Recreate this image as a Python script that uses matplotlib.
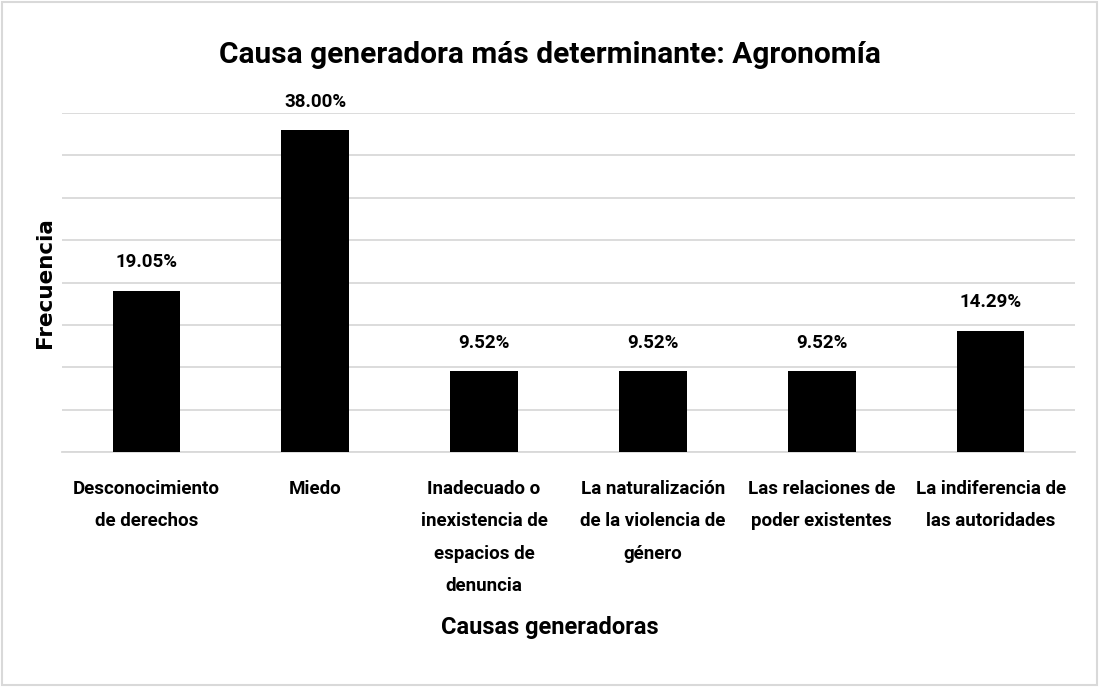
import matplotlib
matplotlib.use("Agg")
import matplotlib.pyplot as plt
from matplotlib.patches import Rectangle

# data
categorias = [
    "Desconocimiento\nde derechos",
    "Miedo",
    "Inadecuado o\ninexistencia de\nespacios de\ndenuncia",
    "La naturalización\nde la violencia de\ngénero",
    "Las relaciones de\npoder existentes",
    "La indiferencia de\nlas autoridades",
]
porcentajes = [19.05, 38.00, 9.52, 9.52, 9.52, 14.29]
etiquetas = ["19.05%", "38.00%", "9.52%", "9.52%", "9.52%", "14.29%"]

fuente = "Roboto"

fig = plt.figure(figsize=(10.99, 6.87), dpi=100)
ax = fig.add_axes([0.0564, 0.342, 0.9218, 0.4935])

x = list(range(len(categorias)))
ax.bar(x, porcentajes, width=0.40, color="black", zorder=3)

for xi, v, lab in zip(x, porcentajes, etiquetas):
    ax.annotate(lab, (xi, v), xytext=(0, 14), textcoords="offset points",
                ha="center", va="bottom", fontsize=13.5, fontweight="bold",
                family=fuente)

ax.set_xlim(-0.5, len(categorias) - 0.5)
ax.set_ylim(0, 40)
ax.set_yticks(range(0, 41, 5))
ax.set_yticklabels([])
ax.tick_params(axis="y", length=0)
ax.yaxis.grid(True, color="#d9d9d9", linewidth=1.3, zorder=0)
for s in ["top", "right", "left"]:
    ax.spines[s].set_visible(False)
ax.spines["bottom"].set_color("#d9d9d9")
ax.spines["bottom"].set_linewidth(1.3)

ax.set_xticks(x)
ax.set_xticklabels(categorias, fontsize=13.5, fontweight="bold", family=fuente,
                   linespacing=2.03, va="top")
ax.tick_params(axis="x", length=0, pad=20)

fig.text(0.5, 0.087, "Causas generadoras", ha="center", va="center",
         fontsize=17, fontweight="bold", family=fuente)
fig.text(0.041, 0.589, "Frecuencia", rotation=90, ha="center", va="center",
         fontsize=15.5, fontweight="bold", family="DejaVu Sans")
fig.text(0.5, 0.92, "Causa generadora más determinante: Agronomía",
         ha="center", va="center", fontsize=21.5, fontweight="bold",
         family=fuente)

fig.patches.append(Rectangle((0.002, 0.003), 0.996, 0.994, transform=fig.transFigure,
                             fill=False, edgecolor="#d9d9d9", linewidth=1.5))

fig.savefig("out.png", dpi=100)
